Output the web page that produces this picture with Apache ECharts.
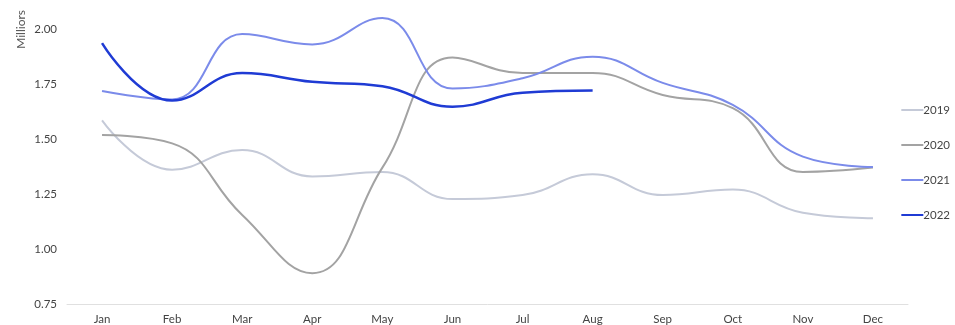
<!DOCTYPE html>
<html><head><meta charset="utf-8">
<script src="https://cdn.jsdelivr.net/npm/echarts@6/dist/echarts.min.js"></script>
<style>html,body{margin:0;padding:0;background:#fff}#c{width:955px;height:325px}</style>
</head><body><div id="c"></div>
<script>
const months = ['Jan','Feb','Mar','Apr','May','Jun','Jul','Aug','Sep','Oct','Nov','Dec'];
const s2019 = [1.585,1.36,1.45,1.33,1.35,1.227,1.245,1.34,1.245,1.27,1.165,1.14];
const s2020 = [1.518,1.48,1.155,0.89,1.37,1.87,1.80,1.80,1.70,1.64,1.35,1.37];
const s2021 = [1.718,1.68,1.977,1.93,2.05,1.73,1.776,1.874,1.755,1.655,1.42,1.373];
const s2022 = [1.936,1.675,1.80,1.76,1.74,1.647,1.71,1.72];
const yTicks = [0.75,1.00,1.25,1.50,1.75,2.00];
const names = ['2019','2020','2021','2022'];
const colors = ['#c5cad8','#a3a3a3','#7b8bea','#1f3bd4'];
const widths = [2,2,2,2.5];
const data = [s2019,s2020,s2021,s2022];
const font = 'Lato, "Noto Sans", sans-serif';
const chart = echarts.init(document.getElementById('c'));
chart.setOption({
  animation:false,
  grid:{left:67,right:47,top:29,bottom:21},
  legend:{orient:'vertical',right:0,top:99,itemGap:23,itemWidth:22,itemHeight:2,
    icon:'rect',textStyle:{color:'#444',fontSize:11.5,fontFamily:font,padding:[0,0,0,-5]},
    data:names},
  graphic:[{type:'text',left:15,top:10,rotation:Math.PI/2,
    style:{text:'Milliors',fill:'#555',font:'12px '+font}}],
  xAxis:{type:'category',data:months,boundaryGap:true,
    axisLine:{lineStyle:{color:'#e0e0e0'}},axisTick:{show:false},
    axisLabel:{color:'#444',fontSize:11.5,fontFamily:font,margin:9}},
  yAxis:{type:'value',min:yTicks[0],max:yTicks[yTicks.length-1],interval:0.25,
    splitLine:{show:false},axisLine:{show:false},axisTick:{show:false},
    axisLabel:{color:'#444',fontSize:11.5,fontFamily:font,margin:10,formatter:v=>v.toFixed(2)}},
  series:names.map((n,i)=>({name:n,type:'line',smooth:0.45,symbol:'none',clip:false,data:data[i],
    itemStyle:{color:colors[i]},lineStyle:{color:colors[i],width:widths[i]}}))
});
</script></body></html>
